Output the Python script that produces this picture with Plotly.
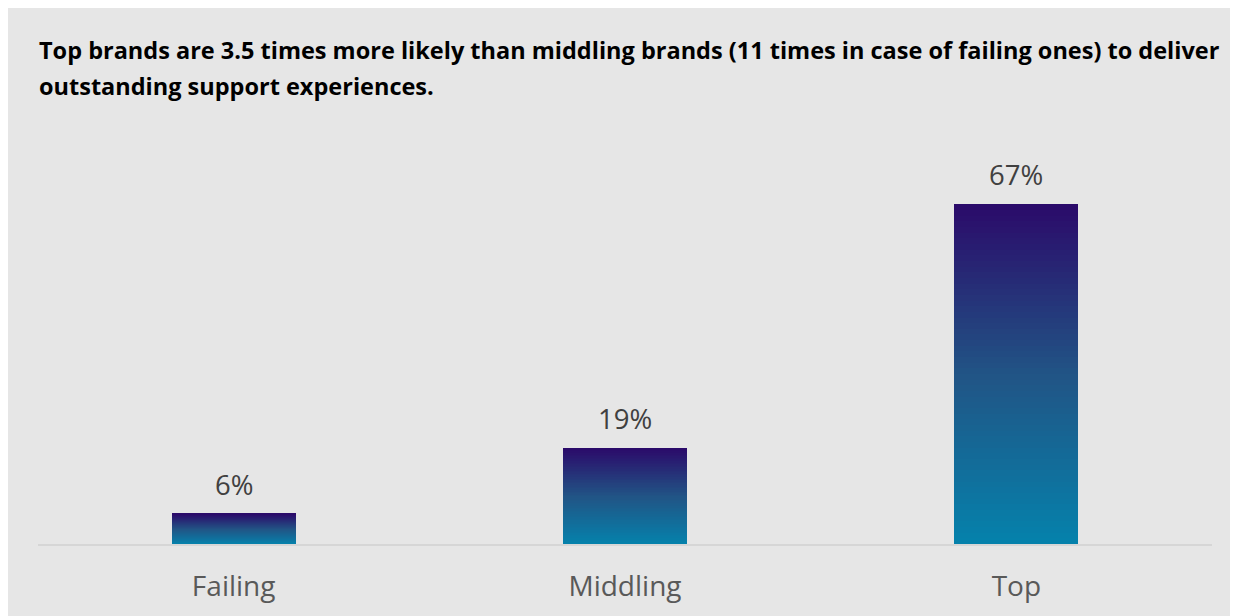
import plotly.graph_objects as go

categories = ["Failing", "Middling", "Top"]
values = [6, 19, 67]
labels = ["6%", "19%", "67%"]
title_line1 = "Top brands are 3.5 times more likely than middling brands (11 times in case of failing ones) to deliver"
title_line2 = "outstanding support experiences."

# gradient stops (bottom -> top)
stops = [(0.0, (5, 130, 172)), (0.5, (33, 84, 133)), (1.0, (43, 10, 106))]

def grad_color(t):
    for (t0, c0), (t1, c1) in zip(stops[:-1], stops[1:]):
        if t0 <= t <= t1:
            f = (t - t0) / (t1 - t0)
            c = [round(a + (b - a) * f) for a, b in zip(c0, c1)]
            return "rgb(%d,%d,%d)" % tuple(c)
    return "rgb(%d,%d,%d)" % stops[-1][1]

N = 60
fig = go.Figure()
for k in range(N):
    t = (k + 0.5) / N
    fig.add_trace(go.Bar(
        x=categories,
        y=[v / N for v in values],
        marker=dict(color=grad_color(t), line=dict(width=0)),
        hoverinfo="skip",
        showlegend=False,
    ))

FONT = "Open Sans"
annotations = []
for c, v, lab in zip(categories, values, labels):
    annotations.append(dict(x=c, y=v, xref="x", yref="y", text=lab, showarrow=False,
                            yanchor="bottom", yshift=9,
                            font=dict(family=FONT, size=27.5, color="#404040")))

annotations.append(dict(x=0, y=1.2538, xref="paper", yref="paper", text="<b>%s</b>" % title_line1,
                        showarrow=False, xanchor="left", yanchor="middle", xshift=-1,
                        font=dict(family=FONT, size=23.5, color="#000000")))
annotations.append(dict(x=0, y=1.162, xref="paper", yref="paper", text="<b>%s</b>" % title_line2,
                        showarrow=False, xanchor="left", yanchor="middle", xshift=-1,
                        font=dict(family=FONT, size=23.5, color="#000000")))

W, H = 1230, 608
L, R, T, B = 30, 26, 142, 72

fig.update_layout(
    width=W, height=H,
    margin=dict(l=L, r=R, t=T, b=B),
    paper_bgcolor="#e6e6e6",
    plot_bgcolor="#e6e6e6",
    barmode="stack",
    bargap=0.683,
    annotations=annotations,
    xaxis=dict(showline=True, linecolor="#d6d6d6", linewidth=2, showgrid=False, zeroline=False,
               ticks="", tickfont=dict(family=FONT, size=28, color="#595959"), ticklabelstandoff=16),
    yaxis=dict(range=[0, 77.7], visible=False, showgrid=False, zeroline=False),
)

fig.write_html("out.html")
